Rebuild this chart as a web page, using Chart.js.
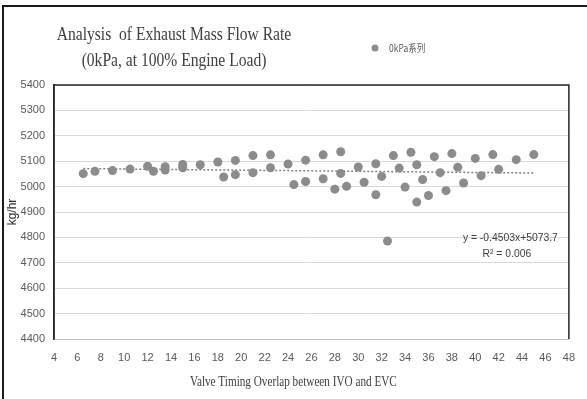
<!DOCTYPE html>
<html><head><meta charset="utf-8">
<script src="https://cdn.jsdelivr.net/npm/chart.js@4.4.1/dist/chart.umd.min.js"></script>
<style>html,body{margin:0;padding:0;background:#fff;}#wrap{width:587px;height:399px;position:relative;}</style>
</head><body><div id="wrap"><canvas id="c" width="587" height="399"></canvas></div>
<script>
// ---- data ----
const titleLines = ['Analysis  of Exhaust Mass Flow Rate', '(0kPa, at 100% Engine Load)'];
const seriesName = '0kPa系列';
const xAxisTitle = 'Valve Timing Overlap between IVO and EVC';
const yAxisTitle = 'kg/hr';
const overlap = [6.5, 7.5, 9, 10.5, 12, 12.5, 13.5, 13.5, 15, 15, 16.5, 18, 18.5, 19.5, 19.5, 21, 21, 22.5, 22.5, 24, 24.5, 25.5, 25.5, 27, 27, 28, 28.5, 28.5, 29, 30, 30.5, 31.5, 31.5, 32, 32.5, 33, 33.5, 34, 34.5, 35, 35, 35.5, 36, 36.5, 37, 37.5, 38, 38.5, 39, 40, 40.5, 41.5, 42, 43.5, 45];
const flow = [5051, 5060, 5063, 5069, 5080, 5060, 5078, 5065, 5087, 5074, 5086, 5097, 5038, 5103, 5047, 5122, 5055, 5125, 5074, 5089, 5008, 5104, 5020, 5125, 5031, 4990, 5137, 5052, 5001, 5077, 5017, 5090, 4968, 5040, 4786, 5122, 5073, 4998, 5135, 5086, 4939, 5028, 4965, 5118, 5055, 4984, 5130, 5076, 5014, 5111, 5043, 5126, 5068, 5106, 5126];
const trendX = [6.5, 45];
const trendY = [5070.8, 5053.4];
const equationLines = ['y = -0.4503x+5073.7', 'R² = 0.006'];
const xMin = 4, xMax = 48, xStep = 2;
const yMin = 4400, yMax = 5400, yStep = 100;

const sans = "'Liberation Sans Narrow', 'Arial Narrow', 'Liberation Sans', sans-serif";
const serif = "'Liberation Serif', 'Times New Roman', serif";

function condensedText(ctx, text, x, y, sx) {
  ctx.save();
  ctx.translate(x, y);
  ctx.scale(sx, 1);
  ctx.fillText(text, 0, 0);
  ctx.restore();
}

const decor = {
  id: 'decor',
  beforeDraw(chart) {
    const ctx = chart.ctx;
    ctx.save();
    ctx.fillStyle = '#fff';
    ctx.fillRect(0, 0, chart.width, chart.height);
    ctx.restore();
  },
  afterDraw(chart) {
    const ctx = chart.ctx, a = chart.chartArea;
    const xs = chart.scales.x, ys = chart.scales.y;
    ctx.save();
    // outer frame (top & left visible)
    ctx.strokeStyle = '#1a1a1a'; ctx.lineWidth = 2;
    ctx.beginPath(); ctx.moveTo(3, chart.height); ctx.lineTo(3, 6); ctx.lineTo(chart.width, 6); ctx.stroke();
    // plot area frame: left, top, right
    ctx.strokeStyle = '#262626'; ctx.lineWidth = 1.5;
    ctx.beginPath();
    ctx.moveTo(a.left, a.bottom); ctx.lineTo(a.left, a.top); ctx.lineTo(a.right, a.top); ctx.lineTo(a.right, a.bottom);
    ctx.stroke();
    // chart title (condensed serif)
    ctx.fillStyle = '#404040';
    ctx.font = '19px ' + serif;
    ctx.textAlign = 'center'; ctx.textBaseline = 'middle';
    condensedText(ctx, titleLines[0], 174, 35, 0.82);
    condensedText(ctx, titleLines[1], 174, 61, 0.82);
    // x-axis title
    ctx.font = '14px ' + serif;
    condensedText(ctx, xAxisTitle, (a.left + a.right) / 2 - 18, 382, 0.8);
    // legend
    ctx.fillStyle = '#8c8c8c';
    ctx.beginPath(); ctx.arc(375, 48, 3.5, 0, Math.PI * 2); ctx.fill();
    ctx.fillStyle = '#595959';
    ctx.font = "10px 'Noto Sans CJK SC', sans-serif";
    ctx.textAlign = 'left';
    condensedText(ctx, seriesName, 389, 48, 0.85);
    // trend equation
    ctx.fillStyle = '#404040';
    ctx.font = '11.5px ' + sans;
    ctx.textAlign = 'center';
    condensedText(ctx, equationLines[0], xs.getPixelForValue(43.0), ys.getPixelForValue(4799), 0.9);
    condensedText(ctx, equationLines[1], xs.getPixelForValue(42.7), ys.getPixelForValue(4736), 0.9);
    ctx.restore();
  }
};

new Chart(document.getElementById('c'), {
  type: 'scatter',
  data: {
    datasets: [
      {
        label: seriesName,
        data: overlap.map((x, i) => ({ x: x, y: flow[i] })),
        backgroundColor: '#8c8c8c',
        borderWidth: 0,
        pointRadius: 4.5,
        pointHoverRadius: 4.5,
        order: 1
      },
      {
        label: 'trend',
        type: 'line',
        data: trendX.map((x, i) => ({ x: x, y: trendY[i] })),
        borderColor: '#7f7f7f',
        borderWidth: 1.5,
        borderDash: [2, 2],
        pointRadius: 0,
        fill: false,
        order: 2
      }
    ]
  },
  options: {
    responsive: false,
    animation: false,
    devicePixelRatio: 1,
    layout: { padding: { top: 85, right: 11, left: 0, bottom: 0 } },
    plugins: { legend: { display: false }, title: { display: false }, tooltip: { enabled: false } },
    scales: {
      x: {
        type: 'linear', min: xMin, max: xMax,
        ticks: { stepSize: xStep, padding: 12, color: '#595959', font: { family: sans, size: 11 }, maxRotation: 0, autoSkip: false, callback: v => String(v) },
        grid: { display: false, drawTicks: false },
        border: { display: true, color: '#bfbfbf', width: 1 },
        title: { display: false },
        afterFit: s => { s.height = 60; }
      },
      y: {
        type: 'linear', min: yMin, max: yMax,
        ticks: { stepSize: yStep, padding: 9, color: '#595959', font: { family: sans, size: 11 }, callback: v => String(v) },
        grid: { color: '#d9d9d9', lineWidth: 1, drawTicks: false },
        border: { display: true, color: '#262626', width: 1.5 },
        title: { display: true, text: yAxisTitle, color: '#262626', font: { family: "'Liberation Sans', sans-serif", size: 12 }, padding: { top: 5, bottom: 0 } },
        afterFit: s => { s.width = 54; }
      }
    }
  },
  plugins: [decor]
});
</script>
</body></html>
